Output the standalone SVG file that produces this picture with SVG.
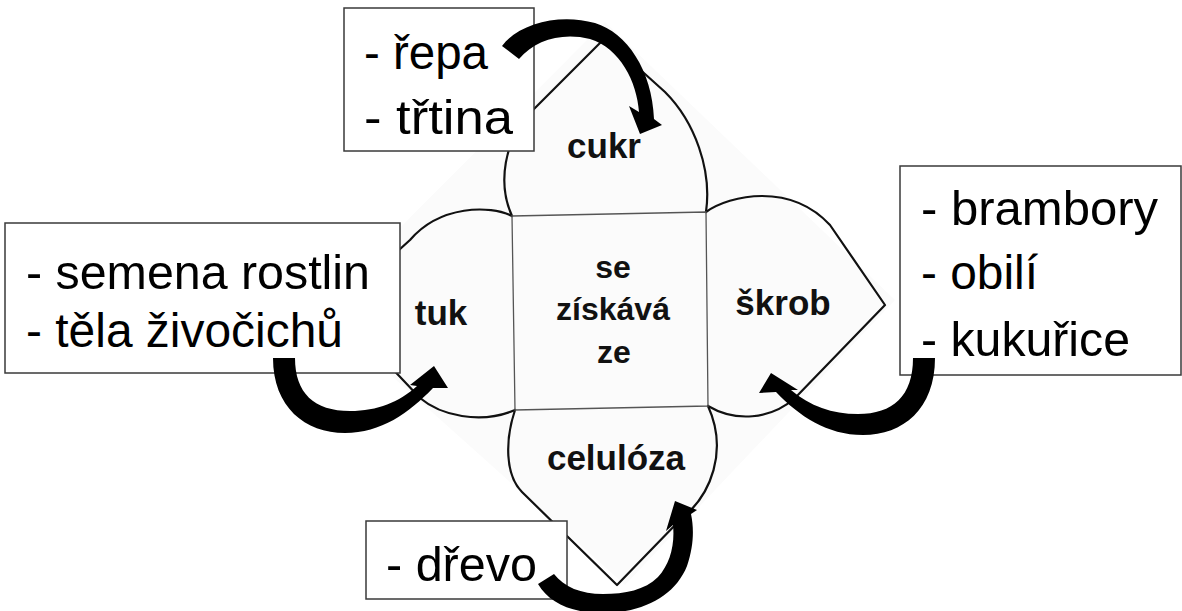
<svg xmlns="http://www.w3.org/2000/svg" width="1182" height="611" viewBox="0 0 1182 611">
<defs>
<style>
.petal{fill:none;stroke:#111;stroke-width:2.2;stroke-linejoin:round;stroke-linecap:round}
.sq{fill:none;stroke:#555;stroke-width:1.3}
.lbl{font-family:"Liberation Sans",Arial,sans-serif;font-weight:bold;font-size:35px;fill:#111;text-anchor:middle}
.mid{font-size:32px}
.box{fill:#fff;stroke:#3a3a3a;stroke-width:1.5}
.bt{font-family:"Liberation Sans",Arial,sans-serif;font-size:48px;fill:#000}
.arr{fill:#000;stroke:none}
</style>
</defs>
<rect width="1182" height="611" fill="#fff"/>
<polygon points="605,22 895,300 625,585 318,310" fill="#fbfbfb"/>
<g id="petal-cukr">
<path class="petal" d="M512,216 C498,185 502,140 535,108 L605,38 L665,92 C695,122 712,170 706,212"/>
<text class="lbl" x="604" y="158">cukr</text>
</g>
<g id="petal-tuk">
<path class="petal" d="M512,216 C490,205 440,205 410,240 L335,308 L420,398 C440,415 480,425 515,410"/>
<text class="lbl" x="441" y="325">tuk</text>
</g>
<g id="petal-skrob">
<path class="petal" d="M706,212 C730,195 790,182 830,225 L885,305 L795,398 C770,420 735,422 708,406"/>
<text class="lbl" x="783" y="315">škrob</text>
</g>
<g id="petal-celuloza">
<path class="petal" d="M515,410 C505,440 505,475 522,492 L617,585 L680,520 C712,495 728,450 708,406"/>
<text class="lbl" x="616" y="470">celulóza</text>
</g>
<g id="center">
<polygon class="sq" points="512,216 706,212 708,406 515,410"/>
<text class="lbl mid" x="613" y="278">se</text>
<text class="lbl mid" x="613" y="320">získává</text>
<text class="lbl mid" x="614" y="363">ze</text>
</g>
<g id="box-cukr">
<rect class="box" x="344" y="8" width="190" height="143"/>
<text class="bt" x="364" y="69" textLength="124" lengthAdjust="spacingAndGlyphs">- řepa</text>
<text class="bt" x="364" y="134" textLength="149" lengthAdjust="spacingAndGlyphs">- třtina</text>
</g>
<g id="box-tuk">
<rect class="box" x="5" y="223" width="395" height="150"/>
<text class="bt" x="26" y="289" textLength="344" lengthAdjust="spacingAndGlyphs">- semena rostlin</text>
<text class="bt" x="26" y="347" textLength="317" lengthAdjust="spacingAndGlyphs">- těla živočichů</text>
</g>
<g id="box-skrob">
<rect class="box" x="900" y="166" width="281" height="209"/>
<text class="bt" x="921" y="225" textLength="237" lengthAdjust="spacingAndGlyphs">- brambory</text>
<text class="bt" x="921" y="289" textLength="117" lengthAdjust="spacingAndGlyphs">- obilí</text>
<text class="bt" x="921" y="356" textLength="209" lengthAdjust="spacingAndGlyphs">- kukuřice</text>
</g>
<g id="box-celuloza">
<rect class="box" x="366" y="521" width="201" height="78"/>
<text class="bt" x="386" y="581" textLength="151" lengthAdjust="spacingAndGlyphs">- dřevo</text>
</g>
<g id="connectors">
<path class="arr" d="M502,46 C519,23 560,13 595,23 C627,33 652,70 654,119 L662,125 L640,134 L629,106 L639,112 C637,82 620,48 590,39 C562,32 535,40 519,59 Z"/>
<path class="arr" d="M273,358 C273,407 305,433 345,433 C381,433 409,413 433,388 L448,388 L434,366 L410,385 L417,386 C399,402 378,411 350,411 C314,411 295,393 295,358 Z"/>
<path class="arr" d="M935,358 C935,409 903,435 863,435 C827,435 799,416 776,392 L759,393 L771,373 L798,390 L791,390 C810,406 832,414 858,414 C893,414 913,396 913,358 Z"/>
<path class="arr" d="M538,584 C549,603 572,613 602,613 C643,613 675,596 687,566 C694,546 694,528 691,514 L697,510 L675,501 L666,531 L673,525 C675,545 670,564 658,577 C645,590 625,594 603,594 C581,594 564,587 554,574 Z"/>
</g>
</svg>
